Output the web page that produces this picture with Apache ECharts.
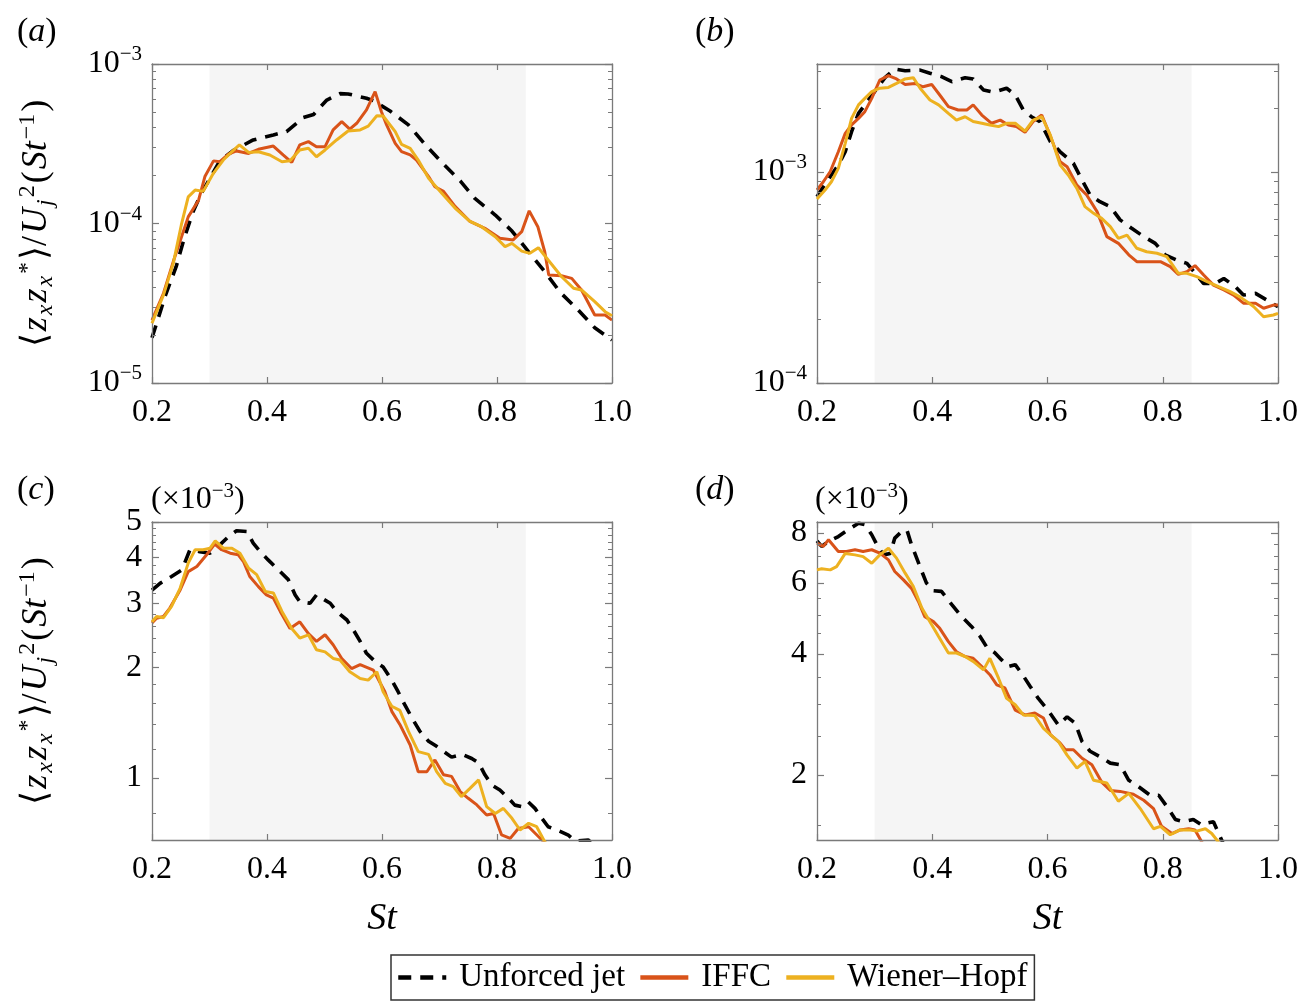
<!DOCTYPE html>
<html><head><meta charset="utf-8">
<script src="https://cdn.jsdelivr.net/npm/echarts@6/dist/echarts.min.js"></script>
<style>html,body{margin:0;padding:0;background:#fff}#c{width:1299px;height:1003px}</style>
</head><body><div id="c"></div>
<script>
// ---------- Panel (a) ----------
const stA_unf = [0.2,0.224,0.242,0.256,0.271,0.285,0.304,0.318,0.341,0.376,0.411,0.434,0.463,0.481,0.504,0.527,0.541,0.573,0.585,0.614,0.646,0.675,0.704,0.736,0.762,0.797,0.826,0.855,0.884,0.910,0.941,0.970,1.0];
const vA_unf = [1.92e-5,3.60e-5,5.36e-5,8.07e-5,1.175e-4,1.53e-4,2.01e-4,2.47e-4,2.86e-4,3.34e-4,3.59e-4,3.77e-4,4.61e-4,4.83e-4,5.94e-4,6.52e-4,6.49e-4,6.10e-4,5.89e-4,5.07e-4,4.15e-4,3.13e-4,2.42e-4,1.85e-4,1.43e-4,1.13e-4,8.97e-5,6.65e-5,4.94e-5,3.70e-5,2.87e-5,2.22e-5,1.86e-5];
const stA_iffc = [0.2,0.220,0.237,0.263,0.281,0.292,0.307,0.318,0.333,0.347,0.368,0.385,0.411,0.428,0.443,0.457,0.472,0.486,0.501,0.515,0.530,0.544,0.556,0.573,0.588,0.599,0.608,0.623,0.634,0.649,0.660,0.681,0.692,0.707,0.727,0.753,0.779,0.805,0.828,0.843,0.856,0.871,0.883,0.890,0.912,0.930,0.947,0.970,0.988,1.0];
const vA_iffc = [2.48e-5,3.65e-5,5.77e-5,1.10e-4,1.40e-4,1.97e-4,2.47e-4,2.44e-4,2.72e-4,2.85e-4,2.75e-4,2.92e-4,3.06e-4,2.69e-4,2.42e-4,3.11e-4,3.26e-4,3.03e-4,3.03e-4,3.86e-4,4.35e-4,3.91e-4,4.25e-4,5.15e-4,6.71e-4,5.02e-4,4.15e-4,3.18e-4,2.82e-4,2.69e-4,2.50e-4,1.97e-4,1.70e-4,1.59e-4,1.28e-4,1.03e-4,9.33e-5,8.07e-5,7.89e-5,8.89e-5,1.20e-4,9.55e-5,6.65e-5,4.75e-5,4.71e-5,4.53e-5,3.83e-5,2.67e-5,2.67e-5,2.48e-5];
const stA_wh = [0.2,0.220,0.237,0.251,0.263,0.275,0.289,0.307,0.324,0.339,0.352,0.368,0.385,0.405,0.426,0.440,0.457,0.472,0.486,0.501,0.521,0.541,0.562,0.576,0.591,0.602,0.623,0.634,0.649,0.663,0.681,0.704,0.727,0.753,0.773,0.797,0.814,0.826,0.843,0.857,0.872,0.889,0.912,0.933,0.947,0.970,0.988,1.0];
const vA_wh = [2.37e-5,3.57e-5,5.62e-5,9.79e-5,1.47e-4,1.62e-4,1.59e-4,2.07e-4,2.50e-4,2.82e-4,3.11e-4,2.79e-4,2.82e-4,2.69e-4,2.44e-4,2.47e-4,2.89e-4,2.96e-4,2.62e-4,2.89e-4,3.34e-4,3.80e-4,3.86e-4,4.08e-4,4.74e-4,4.72e-4,3.77e-4,3.13e-4,2.96e-4,2.50e-4,1.92e-4,1.55e-4,1.25e-4,1.03e-4,9.55e-5,8.26e-5,7.16e-5,7.50e-5,6.71e-5,6.50e-5,7.05e-5,5.90e-5,4.65e-5,3.93e-5,3.83e-5,3.24e-5,2.80e-5,2.64e-5];

// ---------- Panel (b) ----------
const stB_unf = [0.2,0.211,0.225,0.237,0.249,0.260,0.272,0.283,0.306,0.318,0.335,0.353,0.379,0.396,0.416,0.434,0.457,0.471,0.489,0.506,0.529,0.544,0.558,0.572,0.587,0.605,0.622,0.645,0.660,0.674,0.691,0.709,0.726,0.746,0.767,0.787,0.804,0.824,0.842,0.859,0.871,0.891,0.906,0.926,0.940,0.961,0.981,1.0];
const vB_unf = [7.64e-4,8.51e-4,9.68e-4,1.079e-3,1.247e-3,1.552e-3,1.897e-3,2.080e-3,2.535e-3,2.799e-3,3.076e-3,3.020e-3,3.041e-3,2.938e-3,2.831e-3,2.679e-3,2.799e-3,2.761e-3,2.449e-3,2.388e-3,2.495e-3,2.317e-3,1.968e-3,1.828e-3,1.734e-3,1.393e-3,1.247e-3,1.099e-3,9.16e-4,7.78e-4,7.23e-4,6.85e-4,5.93e-4,5.41e-4,4.94e-4,4.59e-4,4.05e-4,3.83e-4,3.69e-4,3.25e-4,2.96e-4,2.96e-4,3.13e-4,2.86e-4,2.61e-4,2.66e-4,2.47e-4,2.30e-4];
const stB_iffc = [0.2,0.211,0.223,0.237,0.249,0.260,0.272,0.283,0.295,0.309,0.324,0.338,0.353,0.370,0.384,0.399,0.413,0.428,0.445,0.460,0.471,0.486,0.503,0.518,0.532,0.546,0.561,0.575,0.590,0.602,0.622,0.634,0.651,0.668,0.686,0.703,0.723,0.741,0.755,0.778,0.796,0.813,0.827,0.842,0.856,0.871,0.888,0.906,0.923,0.940,0.961,0.975,0.992,1.0];
const vB_iffc = [8.22e-4,8.99e-4,1.005e-3,1.247e-3,1.524e-3,1.671e-3,1.795e-3,1.932e-3,2.234e-3,2.729e-3,2.864e-3,2.761e-3,2.600e-3,2.630e-3,2.535e-3,2.600e-3,2.317e-3,2.042e-3,1.968e-3,1.968e-3,2.080e-3,1.862e-3,1.702e-3,1.762e-3,1.671e-3,1.641e-3,1.542e-3,1.734e-3,1.862e-3,1.552e-3,1.119e-3,1.059e-3,8.67e-4,7.78e-4,6.49e-4,4.94e-4,4.59e-4,4.05e-4,3.76e-4,3.76e-4,3.76e-4,3.56e-4,3.27e-4,3.37e-4,3.60e-4,3.25e-4,2.91e-4,2.76e-4,2.61e-4,2.39e-4,2.39e-4,2.26e-4,2.34e-4,2.34e-4];
const stB_wh = [0.2,0.214,0.225,0.237,0.249,0.260,0.272,0.283,0.295,0.309,0.324,0.338,0.353,0.367,0.379,0.396,0.411,0.428,0.442,0.457,0.471,0.486,0.500,0.515,0.529,0.544,0.561,0.575,0.590,0.605,0.622,0.636,0.651,0.665,0.680,0.694,0.709,0.723,0.738,0.755,0.772,0.790,0.807,0.827,0.842,0.859,0.877,0.897,0.917,0.934,0.946,0.958,0.975,0.992,1.0];
const vB_wh = [7.45e-4,8.22e-4,8.99e-4,1.040e-3,1.368e-3,1.795e-3,2.080e-3,2.234e-3,2.404e-3,2.495e-3,2.518e-3,2.630e-3,2.761e-3,2.799e-3,2.495e-3,2.193e-3,2.080e-3,1.897e-3,1.762e-3,1.828e-3,1.734e-3,1.702e-3,1.671e-3,1.641e-3,1.702e-3,1.702e-3,1.563e-3,1.762e-3,1.828e-3,1.496e-3,1.079e-3,9.68e-4,8.37e-4,6.85e-4,6.37e-4,6.03e-4,5.51e-4,4.85e-4,5.02e-4,4.35e-4,4.19e-4,4.12e-4,3.97e-4,3.31e-4,3.31e-4,3.19e-4,3.02e-4,2.86e-4,2.71e-4,2.56e-4,2.43e-4,2.30e-4,2.06e-4,2.10e-4,2.14e-4];

// ---------- Panel (c)  (units of 1e-3) ----------
const stC_unf = [0.2,0.214,0.234,0.252,0.266,0.283,0.301,0.318,0.333,0.347,0.365,0.376,0.388,0.402,0.423,0.437,0.449,0.457,0.475,0.486,0.510,0.521,0.539,0.550,0.562,0.573,0.588,0.602,0.617,0.628,0.640,0.652,0.666,0.681,0.695,0.721,0.739,0.756,0.768,0.779,0.791,0.805,0.820,0.831,0.843,0.854,0.866,0.878,0.889,0.904,0.924,0.936,0.959,0.975];
const vC_unf = [3.26,3.40,3.55,3.70,4.20,4.15,4.11,4.33,4.56,4.73,4.71,4.38,4.15,3.94,3.66,3.48,3.16,3.03,3.00,3.16,3.00,2.85,2.70,2.54,2.36,2.19,2.08,2.01,1.85,1.72,1.58,1.46,1.34,1.26,1.22,1.14,1.16,1.13,1.10,1.02,0.957,0.927,0.880,0.843,0.835,0.861,0.826,0.776,0.736,0.721,0.698,0.673,0.677,0.64];
const stC_iffc = [0.2,0.208,0.220,0.231,0.249,0.263,0.278,0.295,0.309,0.321,0.336,0.350,0.359,0.370,0.385,0.399,0.411,0.423,0.440,0.457,0.472,0.486,0.501,0.515,0.530,0.547,0.562,0.585,0.605,0.617,0.631,0.649,0.663,0.678,0.692,0.707,0.721,0.736,0.750,0.765,0.782,0.794,0.808,0.823,0.837,0.855,0.872,0.881,0.89];
const vC_iffc = [2.65,2.73,2.76,2.91,3.26,3.66,3.78,4.07,4.35,4.20,4.11,4.07,3.90,3.55,3.33,3.16,3.10,2.85,2.56,2.67,2.48,2.36,2.46,2.31,2.12,1.99,2.04,1.97,1.72,1.52,1.40,1.23,1.04,1.04,1.12,1.02,1.01,0.918,0.880,0.844,0.792,0.800,0.699,0.684,0.728,0.736,0.692,0.670,0.65];
const stC_wh = [0.2,0.208,0.220,0.234,0.249,0.263,0.275,0.289,0.301,0.310,0.324,0.339,0.353,0.368,0.382,0.397,0.411,0.426,0.443,0.457,0.472,0.486,0.501,0.515,0.527,0.544,0.562,0.576,0.591,0.602,0.617,0.631,0.646,0.663,0.681,0.695,0.710,0.724,0.738,0.753,0.768,0.782,0.797,0.811,0.826,0.840,0.855,0.869,0.883,0.895];
const vC_wh = [2.67,2.76,2.74,2.94,3.30,3.86,4.20,4.20,4.24,4.44,4.24,4.24,4.11,3.74,3.59,3.23,3.20,2.85,2.56,2.41,2.46,2.24,2.21,2.12,2.10,1.95,1.87,1.85,1.95,1.72,1.57,1.53,1.34,1.18,1.16,1.04,0.967,0.947,0.889,0.937,0.988,0.835,0.800,0.826,0.776,0.721,0.752,0.736,0.670,0.64];

// ---------- Panel (d)  (units of 1e-3) ----------
const stD_unf = [0.2,0.208,0.220,0.237,0.254,0.272,0.283,0.295,0.304,0.315,0.327,0.335,0.347,0.356,0.364,0.373,0.382,0.390,0.402,0.416,0.434,0.451,0.468,0.483,0.494,0.509,0.520,0.532,0.544,0.555,0.570,0.584,0.602,0.619,0.634,0.648,0.660,0.674,0.691,0.709,0.726,0.741,0.758,0.778,0.793,0.807,0.822,0.836,0.853,0.868,0.879,0.888,0.903,0.91];
const vD_unf = [7.64,7.40,7.61,7.83,8.14,8.45,8.38,7.91,7.47,7.05,7.11,7.76,8.06,8.13,7.47,6.92,6.41,6.00,5.74,5.72,5.30,4.95,4.68,4.42,4.17,4.02,3.87,3.72,3.76,3.58,3.32,3.10,2.88,2.66,2.79,2.69,2.42,2.29,2.22,2.14,2.12,1.94,1.87,1.78,1.78,1.67,1.55,1.53,1.55,1.50,1.52,1.53,1.37,1.30];
const stD_iffc = [0.2,0.211,0.220,0.237,0.251,0.266,0.280,0.295,0.309,0.324,0.335,0.350,0.364,0.376,0.387,0.402,0.413,0.428,0.442,0.457,0.471,0.486,0.500,0.512,0.526,0.544,0.561,0.578,0.593,0.605,0.622,0.631,0.645,0.660,0.677,0.694,0.709,0.726,0.749,0.767,0.784,0.798,0.816,0.830,0.845,0.856,0.868,0.88];
const vD_iffc = [7.54,7.40,7.69,7.19,7.19,7.26,7.19,7.26,7.12,6.85,6.41,6.11,5.82,5.40,4.95,4.81,4.63,4.29,4.05,3.94,3.90,3.72,3.55,3.35,3.29,2.90,2.82,2.85,2.77,2.52,2.40,2.31,2.31,2.20,2.12,1.92,1.83,1.82,1.79,1.73,1.65,1.49,1.43,1.46,1.47,1.46,1.36,1.30];
const stD_wh = [0.2,0.208,0.223,0.234,0.249,0.266,0.280,0.295,0.309,0.324,0.338,0.353,0.367,0.382,0.396,0.411,0.428,0.442,0.457,0.471,0.489,0.500,0.515,0.529,0.544,0.558,0.578,0.593,0.605,0.619,0.634,0.651,0.665,0.680,0.703,0.723,0.741,0.761,0.784,0.796,0.813,0.830,0.848,0.859,0.874,0.885,0.897,0.91];
const vD_wh = [6.47,6.51,6.47,6.59,7.11,7.05,6.98,6.72,7.05,7.32,6.92,6.35,5.89,5.20,4.81,4.42,4.02,4.02,3.94,3.83,3.65,3.90,3.48,3.10,2.99,2.82,2.81,2.61,2.52,2.42,2.24,2.08,2.16,1.94,1.91,1.72,1.80,1.65,1.47,1.49,1.42,1.46,1.46,1.45,1.47,1.43,1.36,1.28];

// ---------- Axis ticks ----------
const xTicks = [0.2,0.4,0.6,0.8,1.0];
const shadeRange = [0.3,0.85];
const majorA = [1e-5,1e-4,1e-3];
const minorA = [2e-5,3e-5,4e-5,5e-5,6e-5,7e-5,8e-5,9e-5,2e-4,3e-4,4e-4,5e-4,6e-4,7e-4,8e-4,9e-4];
const majorB = [1e-4,1e-3];
const minorB = [2e-4,3e-4,4e-4,5e-4,6e-4,7e-4,8e-4,9e-4,2e-3,3e-3];
const majorC = [1,2,3,4,5];
const minorC = [0.8,1.2,1.4,1.6,1.8,2.2,2.4,2.6,2.8,3.2,3.4,3.6,3.8,4.2,4.4,4.6,4.8];
const majorD = [2,4,6,8];
const minorD = [1.5,2.5,3,3.5,4.5,5,5.5,6.5,7,7.5];
const yRangeA = [1e-5,1e-3];
const yRangeB = [1e-4,3.25e-3];
const yRangeC = [0.677,5.0];
const yRangeD = [1.378,8.51];

const names = ['Unforced jet','IFFC','Wiener–Hopf'];
const colors = ['#000000','#D95319','#EDB120'];

const FONT = '"Liberation Serif", "Times New Roman", serif';
const FS = 32;
const AX = '#7a7a7a';

const panels = [
  {grid:{left:152,top:64,width:460,height:319}, yr:yRangeA, major:majorA, minor:minorA, pow:true, yname:true, xname:false,
   st:[stA_unf,stA_iffc,stA_wh], v:[vA_unf,vA_iffc,vA_wh]},
  {grid:{left:817,top:64,width:461,height:319}, yr:yRangeB, major:majorB, minor:minorB, pow:true, yname:false, xname:false,
   st:[stB_unf,stB_iffc,stB_wh], v:[vB_unf,vB_iffc,vB_wh]},
  {grid:{left:152,top:522,width:460,height:318}, yr:yRangeC, major:majorC, minor:minorC, pow:false, yname:true, xname:true,
   st:[stC_unf,stC_iffc,stC_wh], v:[vC_unf,vC_iffc,vC_wh]},
  {grid:{left:817,top:522,width:461,height:318}, yr:yRangeD, major:majorD, minor:minorD, pow:false, yname:false, xname:true,
   st:[stD_unf,stD_iffc,stD_wh], v:[vD_unf,vD_iffc,vD_wh]}
];

const richBase = {
  b:{fontFamily:FONT,fontSize:FS,color:'#000',lineHeight:40},
  p:{fontFamily:FONT,fontSize:21,color:'#000',lineHeight:22,verticalAlign:'top'}
};
const YF = 36, YS = 24;
const yNameRich = {
  u:{fontFamily:FONT,fontSize:YF,color:'#000',lineHeight:42,padding:[0,1]},
  t:{fontFamily:FONT,fontSize:YF,fontStyle:'italic',color:'#000',lineHeight:42,padding:[0,1]},
  s:{fontFamily:FONT,fontSize:YS,fontStyle:'italic',color:'#000',lineHeight:22,verticalAlign:'bottom',padding:[0,1]},
  q:{fontFamily:FONT,fontSize:YS,color:'#000',lineHeight:22,verticalAlign:'top',padding:[0,1]}
};
const yNameText = '{u|⟨}{t|z}{s|x}{t|z}{s|x}{q|*}{u|⟩/}{t|U}{s|j}{q|2}{u|(}{t|St}{q|−1}{u|)}';

const grids = [], xAxes = [], yAxes = [], series = [];
panels.forEach((p, gi) => {
  grids.push(Object.assign({containLabel:false, outerBoundsMode:'none', show:false}, p.grid));
  const xBase = {type:'value', gridIndex:gi, min:0.2, max:1.0, interval:0.2, z:5,
    axisLine:{show:true, onZero:false, lineStyle:{color:AX, width:1.3}},
    axisTick:{show:true, inside:true, length:6, lineStyle:{color:AX, width:1.2}},
    splitLine:{show:false}};
  xAxes.push(Object.assign({}, xBase, {position:'bottom',
    axisLabel:{show:true, margin:14, color:'#000', fontFamily:FONT, fontSize:FS, hideOverlap:false,
      showMinLabel:true, showMaxLabel:true, formatter:v=>v.toFixed(1)},
    name: p.xname ? 'St' : '', nameLocation:'middle', nameGap:60,
    nameTextStyle:{fontFamily:FONT, fontSize:38, fontStyle:'italic', color:'#000'}}));
  xAxes.push(Object.assign({}, xBase, {position:'top', axisLabel:{show:false}}));

  const fmt = p.pow
    ? (v => { const e = Math.round(Math.log10(v)); return '{b|10}{p|' + (e < 0 ? '−' : '') + Math.abs(e) + '}'; })
    : (v => String(Math.round(v * 10) / 10));
  const yBase = {type:'log', logBase:10, gridIndex:gi, min:p.yr[0], max:p.yr[1], z:5, splitLine:{show:false}, minorTick:{show:false}};
  yAxes.push(Object.assign({}, yBase, {position:'left',
    axisLine:{show:true, lineStyle:{color:AX, width:1.3}},
    axisTick:{show:true, inside:true, length:7, customValues:p.major, lineStyle:{color:AX, width:1.2}},
    axisLabel:{show:true, margin:10, customValues:p.major, formatter:fmt, color:'#000', fontFamily:FONT, fontSize:FS,
      rich:richBase, hideOverlap:false},
    name: p.yname ? yNameText : '', nameLocation:'middle', nameRotate:90, nameGap:94,
    nameTextStyle:{rich:yNameRich, fontFamily:FONT, fontSize:YF, color:'#000'}}));
  yAxes.push(Object.assign({}, yBase, {position:'left',
    axisLine:{show:false},
    axisTick:{show:true, inside:true, length:4, customValues:p.minor, lineStyle:{color:AX, width:1}},
    axisLabel:{show:false}}));
  yAxes.push(Object.assign({}, yBase, {position:'right',
    axisLine:{show:true, lineStyle:{color:AX, width:1.3}},
    axisTick:{show:true, inside:true, length:7, customValues:p.major, lineStyle:{color:AX, width:1.2}},
    axisLabel:{show:false}}));
  yAxes.push(Object.assign({}, yBase, {position:'right',
    axisLine:{show:false},
    axisTick:{show:true, inside:true, length:4, customValues:p.minor, lineStyle:{color:AX, width:1}},
    axisLabel:{show:false}}));

  for (let k = 0; k < 3; k++) {
    const st = p.st[k], vv = p.v[k];
    const n = Math.min(st.length, vv.length);
    const data = [];
    for (let i = 0; i < n; i++) data.push([st[i], vv[i]]);
    const s = {
      type:'line', name:names[k], xAxisIndex:2*gi, yAxisIndex:4*gi, data:data,
      showSymbol:false, symbol:'none', clip:true, z:3+k, animation:false, silent:true,
      lineStyle: k === 0 ? {color:colors[k], width:3.6, type:[13,9]} : {color:colors[k], width:3},
      itemStyle:{color:colors[k]}
    };
    if (k === 0) {
      s.markArea = {silent:true, z:1, itemStyle:{color:'#f5f5f5'},
        data:[[{xAxis:shadeRange[0]},{xAxis:shadeRange[1]}]]};
    }
    series.push(s);
  }
});

const panelTitle = (txt, left, top) => ({
  text: txt, left:left, top:top,
  textStyle:{fontFamily:FONT, fontSize:34, color:'#000', fontWeight:'normal',
    rich:{u:{fontFamily:FONT,fontSize:34,color:'#000'}, i:{fontFamily:FONT,fontSize:34,fontStyle:'italic',color:'#000'}}}
});
const scaleTitle = (left, top) => ({
  text:'{b|(×10}{p|−3}{b|)}', left:left, top:top,
  textStyle:{fontFamily:FONT, fontSize:32, color:'#000', fontWeight:'normal',
    rich:{b:{fontFamily:FONT,fontSize:32,color:'#000',lineHeight:38},
          p:{fontFamily:FONT,fontSize:21,color:'#000',lineHeight:20,verticalAlign:'top'}}}
});

const chart = echarts.init(document.getElementById('c'), null, {renderer:'canvas'});
chart.setOption({
  animation:false,
  backgroundColor:'#ffffff',
  title:[
    panelTitle('{u|(}{i|a}{u|)}', 12, 10),
    panelTitle('{u|(}{i|b}{u|)}', 690, 10),
    panelTitle('{u|(}{i|c}{u|)}', 12, 468),
    panelTitle('{u|(}{i|d}{u|)}', 690, 468),
    scaleTitle(146, 476),
    scaleTitle(810, 476)
  ],
  legend:{
    data:names, left:391, top:955, orient:'horizontal',
    itemWidth:48, itemHeight:14, itemGap:13,
    itemStyle:{opacity:0},
    lineStyle:{width:4.5},
    borderColor:'#333', borderWidth:1.5, padding:[6,7,6,5],
    textStyle:{fontFamily:FONT, fontSize:33, color:'#000', padding:[0,0,0,8]},
    selectedMode:false
  },
  grid:grids, xAxis:xAxes, yAxis:yAxes, series:series
});
</script>
</body></html>
